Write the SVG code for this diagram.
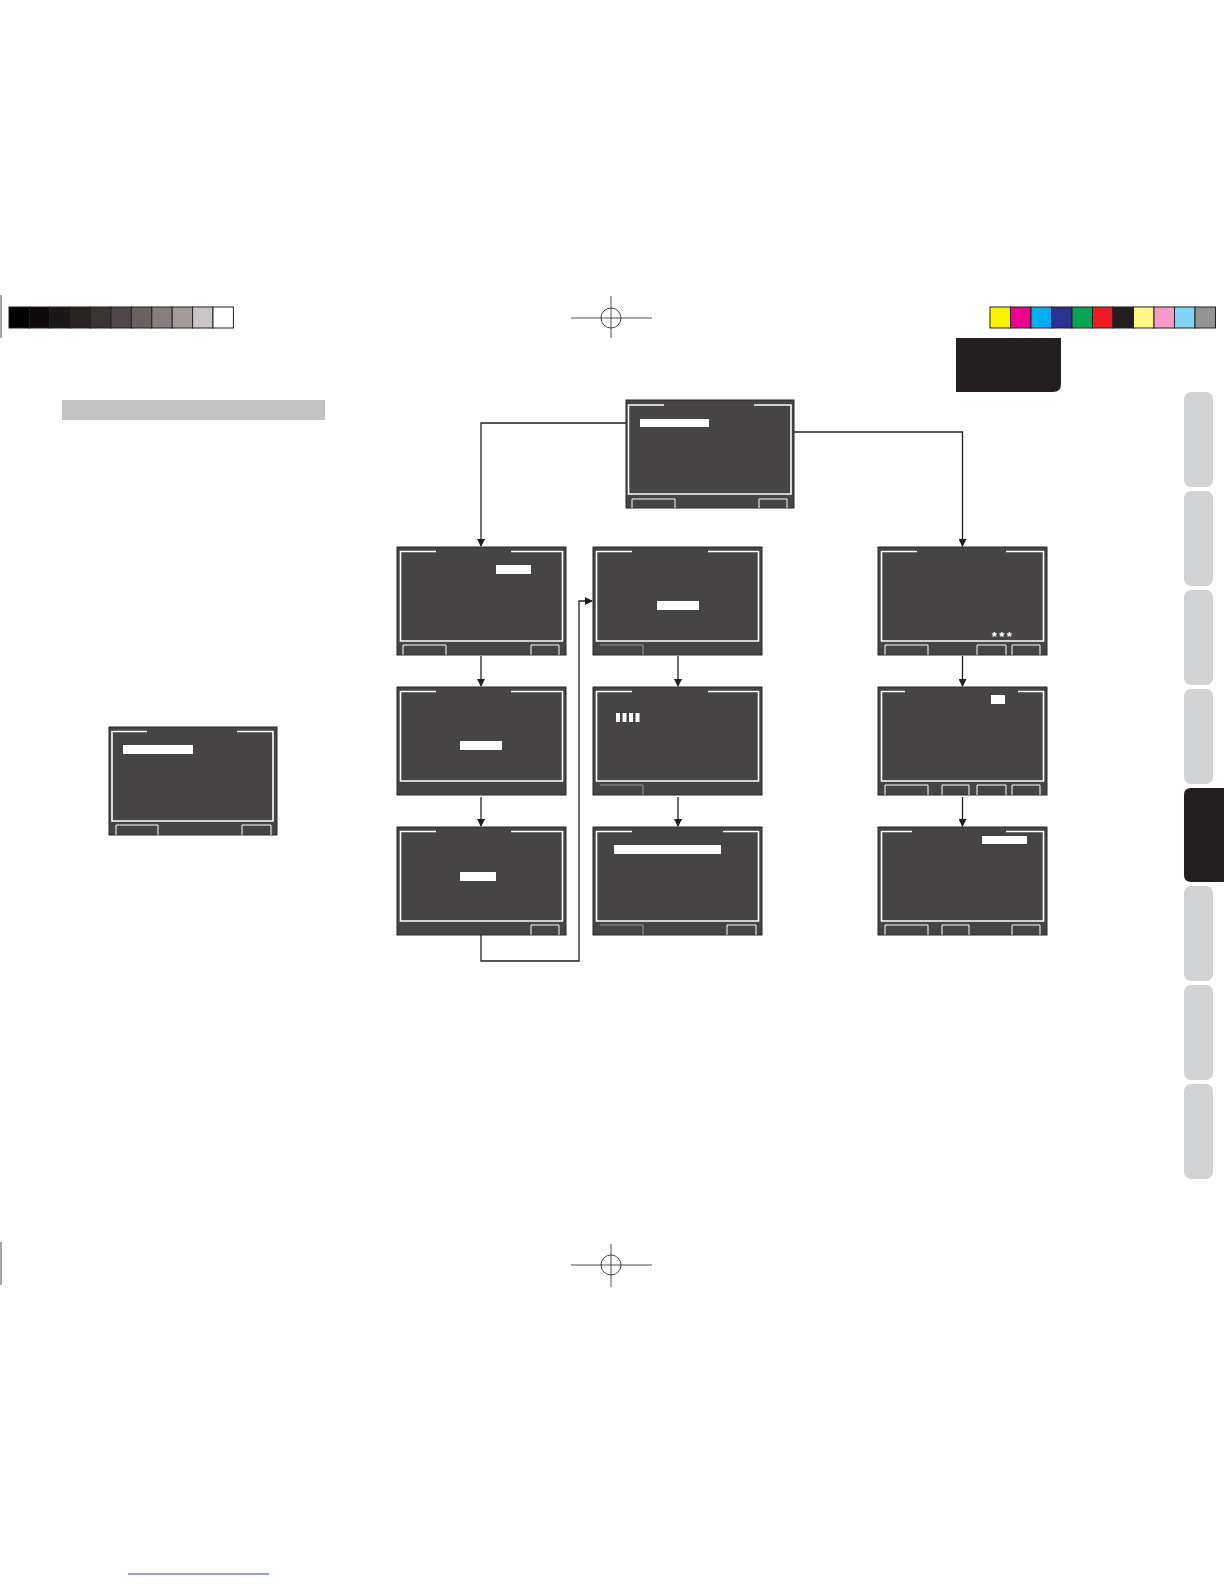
<svg xmlns="http://www.w3.org/2000/svg" width="1224" height="1584" viewBox="0 0 1224 1584">
<style>
.scr{fill:#464445;stroke:#2a2728;stroke-width:1}
.frm{fill:none;stroke:#ffffff;stroke-width:1.6}
.btn{fill:none;stroke:#ffffff;stroke-width:1}
.gbtn{fill:none;stroke:#9a9899;stroke-width:1}
.hl{fill:#ffffff}
.con{fill:none;stroke:#231f20;stroke-width:1.3}
.reg{fill:none;stroke:#231f20;stroke-width:0.8}
.tab{fill:#d1d2d4}
.txt{font-family:"Liberation Sans",Arial,sans-serif;fill:#ffffff;font-weight:bold}
</style>
<defs>
<marker id="ah" markerWidth="8" markerHeight="8" refX="7" refY="4" orient="auto" markerUnits="userSpaceOnUse">
<path d="M0,0 L8,4 L0,8 Z" fill="#231f20"/>
</marker>
</defs>
<rect width="1224" height="1584" fill="#ffffff"/>

<g id="printmarks">
<line class="reg" x1="1" y1="295" x2="1" y2="338"/>
<line class="reg" x1="1" y1="1242" x2="1" y2="1285"/>
<g stroke="#231f20" stroke-width="1">
<rect x="9" y="307" width="20.4" height="21" fill="#000000"/>
<rect x="29.4" y="307" width="20.4" height="21" fill="#0d0a09"/>
<rect x="49.8" y="307" width="20.4" height="21" fill="#1a1817"/>
<rect x="70.2" y="307" width="20.4" height="21" fill="#2a2523"/>
<rect x="90.6" y="307" width="20.4" height="21" fill="#3b3534"/>
<rect x="111" y="307" width="20.4" height="21" fill="#504848"/>
<rect x="131.4" y="307" width="20.4" height="21" fill="#696261"/>
<rect x="151.8" y="307" width="20.4" height="21" fill="#867f7d"/>
<rect x="172.2" y="307" width="20.4" height="21" fill="#a29b99"/>
<rect x="192.6" y="307" width="20.4" height="21" fill="#c9c6c5"/>
<rect x="213" y="307" width="20.4" height="21" fill="#ffffff"/>
</g>
<g stroke="#231f20" stroke-width="1">
<rect x="990" y="307" width="20.5" height="21" fill="#fff200"/>
<rect x="1010.5" y="307" width="20.5" height="21" fill="#ec008c"/>
<rect x="1031" y="307" width="20.5" height="21" fill="#00aeef"/>
<rect x="1051.5" y="307" width="20.5" height="21" fill="#2e3192"/>
<rect x="1072" y="307" width="20.5" height="21" fill="#00a651"/>
<rect x="1092.5" y="307" width="20.5" height="21" fill="#ed1c24"/>
<rect x="1113" y="307" width="20.5" height="21" fill="#231f20"/>
<rect x="1133.5" y="307" width="20.5" height="21" fill="#fff685"/>
<rect x="1154" y="307" width="20.5" height="21" fill="#f49ac8"/>
<rect x="1174.5" y="307" width="20.5" height="21" fill="#80d4f6"/>
<rect x="1195" y="307" width="20.5" height="21" fill="#939393"/>
</g>
<circle class="reg" cx="611" cy="318" r="10"/>
<line class="reg" x1="571" y1="318" x2="652" y2="318"/>
<line class="reg" x1="611" y1="296" x2="611" y2="338"/>
<circle class="reg" cx="611" cy="1265" r="10"/>
<line class="reg" x1="571" y1="1265" x2="652" y2="1265"/>
<line class="reg" x1="611" y1="1244" x2="611" y2="1287"/>
<line x1="128" y1="1574" x2="269" y2="1574" stroke="#2b3bb5" stroke-width="1"/>
</g>

<g id="header">
<path d="M956,338 H1061 V384 Q1061,392 1053,392 H956 Z" fill="#231f20"/>
<rect x="62" y="400" width="263" height="20" fill="#c2c2c2"/>
</g>

<g id="sidetabs">
<rect class="tab" x="1184" y="392" width="29" height="95" rx="7"/>
<rect class="tab" x="1184" y="491" width="29" height="95" rx="7"/>
<rect class="tab" x="1184" y="590" width="29" height="95" rx="7"/>
<rect class="tab" x="1184" y="689" width="29" height="95" rx="7"/>
<path d="M1224,788 H1191 Q1184,788 1184,795 V875 Q1184,882 1191,882 H1224 Z" fill="#231f20"/>
<rect class="tab" x="1184" y="886" width="29" height="95" rx="7"/>
<rect class="tab" x="1184" y="985" width="29" height="95" rx="7"/>
<rect class="tab" x="1184" y="1084" width="29" height="95" rx="7"/>
</g>

<g id="connectors">
<path class="con" d="M626,423 H481 V546" marker-end="url(#ah)"/>
<path class="con" d="M794,432 H962.5 V546" marker-end="url(#ah)"/>
<path class="con" d="M481,656 V686" marker-end="url(#ah)"/>
<path class="con" d="M678,656 V686" marker-end="url(#ah)"/>
<path class="con" d="M962.5,656 V686" marker-end="url(#ah)"/>
<path class="con" d="M481,797 V826" marker-end="url(#ah)"/>
<path class="con" d="M678,797 V826" marker-end="url(#ah)"/>
<path class="con" d="M962.5,797 V826" marker-end="url(#ah)"/>
<path class="con" d="M481,935 V961 H579 V601 H592" marker-end="url(#ah)"/>
</g>

<g id="screen-top">
<rect class="scr" x="626" y="400" width="168" height="108"/>
<path class="frm" d="M664,405 H628.5 V494 H791 V405 H754"/>
<rect class="hl" x="640" y="419" width="69" height="8"/>
<path class="btn" d="M632,508 V499 H675 V508"/>
<path class="btn" d="M759,508 V499 H787 V508"/>
</g>

<g id="screen-a1">
<rect class="scr" x="397" y="547" width="169" height="108"/>
<path class="frm" d="M436,551.5 H400.5 V641 H562.5 V551.5 H511"/>
<rect class="hl" x="496" y="565" width="35" height="9"/>
<path class="btn" d="M403,655 V645 H446 V655"/>
<path class="btn" d="M531,655 V645 H559 V655"/>
</g>

<g id="screen-b1">
<rect class="scr" x="593" y="547" width="169" height="108"/>
<path class="frm" d="M632,551.5 H596.5 V641 H758.5 V551.5 H708"/>
<rect class="hl" x="657" y="601" width="42" height="9"/>
<path class="gbtn" d="M600,645 H643 V655"/>
</g>

<g id="screen-c1">
<rect class="scr" x="878" y="547" width="169" height="108"/>
<path class="frm" d="M917,551.5 H881.5 V641 H1043.5 V551.5 H1006"/>
<text class="txt" x="1003" y="641" font-size="13" letter-spacing="2.5" text-anchor="middle">***</text>
<path class="btn" d="M885,655 V645 H928 V655"/>
<path class="btn" d="M977,655 V645 H1006 V655"/>
<path class="btn" d="M1012,655 V645 H1040 V655"/>
</g>

<g id="screen-a2">
<rect class="scr" x="397" y="687" width="169" height="108"/>
<path class="frm" d="M436,691.5 H400.5 V781 H562.5 V691.5 H511"/>
<rect class="hl" x="460" y="741" width="42" height="9"/>
</g>

<g id="screen-b2">
<rect class="scr" x="593" y="687" width="169" height="108"/>
<path class="frm" d="M632,691.5 H596.5 V781 H758.5 V691.5 H708"/>
<rect class="hl" x="616" y="713" width="4" height="9"/>
<rect class="hl" x="622.5" y="713" width="4" height="9"/>
<rect class="hl" x="629" y="713" width="4" height="9"/>
<rect class="hl" x="635.5" y="713" width="4" height="9"/>
<path class="gbtn" d="M600,785 H643 V795"/>
</g>

<g id="screen-c2">
<rect class="scr" x="878" y="687" width="169" height="108"/>
<path class="frm" d="M905,691.5 H881.5 V781 H1043.5 V691.5 H1018"/>
<rect class="hl" x="991" y="695" width="14" height="9"/>
<path class="btn" d="M885,795 V785 H928 V795"/>
<path class="btn" d="M942,795 V785 H969 V795"/>
<path class="btn" d="M977,795 V785 H1006 V795"/>
<path class="btn" d="M1012,795 V785 H1040 V795"/>
</g>

<g id="screen-a3">
<rect class="scr" x="397" y="827" width="169" height="108"/>
<path class="frm" d="M436,831.5 H400.5 V921 H562.5 V831.5 H511"/>
<rect class="hl" x="460" y="872" width="36" height="9"/>
<path class="btn" d="M531,935 V925 H559 V935"/>
</g>

<g id="screen-b3">
<rect class="scr" x="593" y="827" width="169" height="108"/>
<path class="frm" d="M632,831.5 H596.5 V921 H758.5 V831.5 H723"/>
<rect class="hl" x="614" y="845" width="107" height="9"/>
<path class="gbtn" d="M600,925 H643 V935"/>
<path class="btn" d="M727,935 V925 H756 V935"/>
</g>

<g id="screen-c3">
<rect class="scr" x="878" y="827" width="169" height="108"/>
<path class="frm" d="M912,831.5 H881.5 V921 H1043.5 V831.5 H1006"/>
<rect class="hl" x="982" y="836" width="45" height="8"/>
<path class="btn" d="M885,935 V925 H928 V935"/>
<path class="btn" d="M942,935 V925 H969 V935"/>
<path class="btn" d="M1012,935 V925 H1040 V935"/>
</g>

<g id="screen-small">
<rect class="scr" x="109" y="727" width="168" height="108"/>
<path class="frm" d="M147,731.5 H112 V821 H273 V731.5 H237"/>
<rect class="hl" x="123" y="745" width="70" height="9"/>
<path class="btn" d="M116,835 V825 H158 V835"/>
<path class="btn" d="M242,835 V825 H271 V835"/>
</g>
</svg>
